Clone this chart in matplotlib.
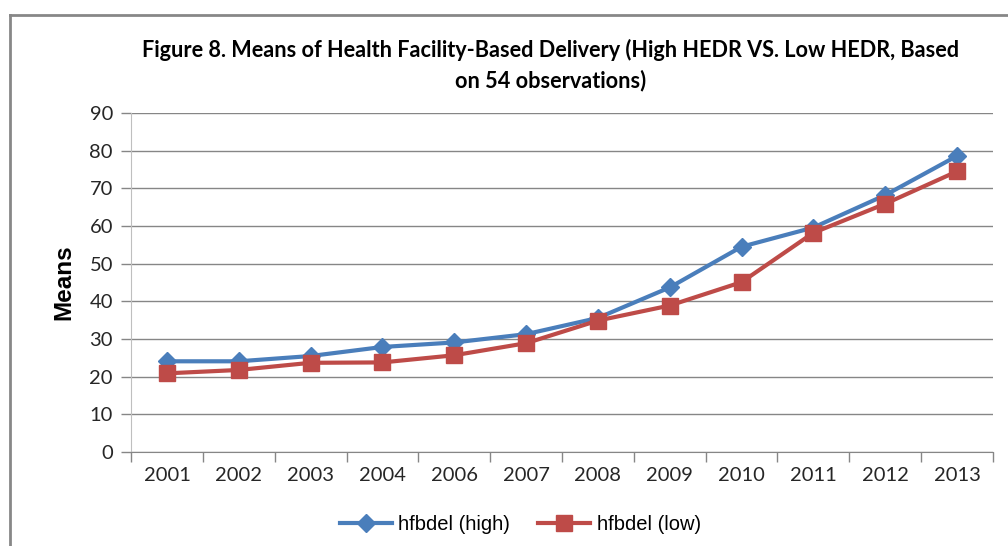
import numpy as np
import matplotlib.pyplot as plt
from matplotlib.lines import Line2D

years = ['2001', '2002', '2003', '2004', '2006', '2007', '2008',
         '2009', '2010', '2011', '2012', '2013']
high = [24.1, 24.1, 25.5, 27.9, 29.1, 31.3, 35.6, 43.7, 54.5, 59.6, 68.2, 78.6]
low = [20.9, 21.8, 23.7, 23.8, 25.7, 28.9, 34.9, 38.9, 45.1, 58.2, 65.9, 74.5]

grey = '#868686'
x = np.arange(len(years))

fig = plt.figure(figsize=(10.08, 5.46), dpi=100)
ax = fig.add_axes([0.130, 0.172, 0.855, 0.621])

ax.plot(x, high, color='#4A7EBB', lw=3, marker='D', ms=9, label='hfbdel (high)', zorder=3)
ax.plot(x, low, color='#BE4B48', lw=3, marker='s', ms=11, label='hfbdel (low)', zorder=3)

ax.set_xlim(-0.5, len(years) - 0.5)
ax.set_ylim(0, 90)
ax.set_yticks(range(0, 91, 10))
ax.set_xticks(x)
ax.set_xticklabels(years)
ax.set_xticks(np.arange(-0.5, len(years), 1), minor=True)
ax.tick_params(axis='x', which='major', length=0, pad=11)
ax.tick_params(axis='x', which='minor', length=7, color=grey, width=1)
ax.tick_params(axis='y', length=7, color=grey, width=1, pad=6)
for lab in ax.get_xticklabels() + ax.get_yticklabels():
    lab.set_fontfamily('Lato')
    lab.set_fontsize(14.5)
    lab.set_color('#262626')

ax.grid(axis='y', color=grey, lw=1)
ax.set_axisbelow(True)
for s in ['top', 'right']:
    ax.spines[s].set_visible(False)
ax.spines['left'].set_color('#bfbfbf')
ax.spines['bottom'].set_color(grey)

ax.set_ylabel('Means', fontfamily='Liberation Sans', fontweight='bold', fontsize=17.5, labelpad=10)

fig.text(0.546, 0.908, 'Figure 8. Means of Health Facility-Based Delivery (High HEDR VS. Low HEDR, Based',
         ha='center', va='center', fontfamily='Lato', fontweight='bold', fontsize=15.6)
fig.text(0.546, 0.853, 'on 54 observations)',
         ha='center', va='center', fontfamily='Lato', fontweight='bold', fontsize=15.6)

fig.legend(loc='center', bbox_to_anchor=(0.516, 0.039), ncol=2, frameon=False,
           prop={'family': 'Liberation Sans', 'size': 14.5}, handlelength=2.6,
           columnspacing=1.4, handletextpad=0.3)

# chart border
fig.add_artist(Line2D([10 / 1008, 1], [1 - 15 / 546, 1 - 15 / 546], color='#878787', lw=2))
fig.add_artist(Line2D([10 / 1008, 10 / 1008], [0, 1 - 15 / 546], color='#878787', lw=2))

fig.savefig('out.png', dpi=100)
